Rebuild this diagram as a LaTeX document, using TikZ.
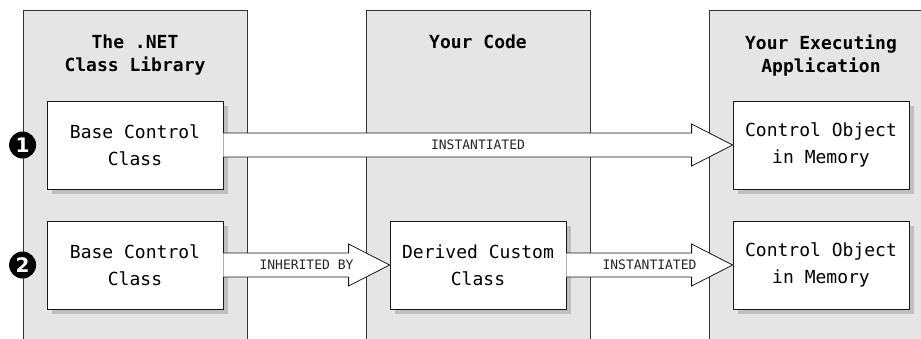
\documentclass[tikz,border=0pt]{standalone}
\usepackage{fontspec}
\setmonofont{DejaVu Sans Mono}
\newfontfamily\numfont{DejaVu Sans}
\usetikzlibrary{positioning,calc,shadows}

\definecolor{lanegray}{gray}{0.9}
\definecolor{edgegray}{gray}{0.2}

\tikzset{
  lane/.style={draw=edgegray, fill=lanegray, line width=0.8pt, minimum width=224pt, minimum height=340pt, anchor=north, inner sep=0pt},
  lanetitle/.style={inner sep=0pt, align=center, font=\ttfamily\bfseries\fontsize{18}{23}\selectfont},
  classbox/.style={draw=black!90, fill=white, line width=0.8pt, minimum width=176pt, minimum height=88pt, align=center,
    font=\ttfamily\fontsize{18}{27}\selectfont, drop shadow={shadow xshift=5pt, shadow yshift=-5pt, fill=black!25, opacity=1}},
  fatarrow/.style={draw=black!90, fill=white, line width=0.8pt},
  tag/.style={font=\ttfamily\fontsize{13}{13}\selectfont, text=black!85, inner sep=0pt},
  stepnum/.style={circle, fill=black, text=white, minimum size=27pt, inner sep=0pt, font=\numfont\bfseries\fontsize{20}{20}\selectfont},
}

\begin{document}
\begin{tikzpicture}[x=1pt, y=-1pt]
  \path[use as bounding box, clip] (0,0) rectangle (921,338);

  \node[lane] (lib) at (135,9.5) {};
  \node[lane] (code) at (478,9.5) {};
  \node[lane] (app) at (821,9.5) {};

  \node[lanetitle, below=25pt of lib.north] (lib-title) {The .NET\\Class Library};
  \node[lanetitle, below=25pt of code.north] (code-title) {Your Code};
  \node[lanetitle, below=25pt of app.north] (app-title) {Your Executing\\Application};

  \node[classbox] (base-a) at (135,145) {Base Control\\Class};
  \node[classbox] (base-b) at (135,265) {Base Control\\Class};
  \node[classbox] (derived) at (478,265) {Derived Custom\\Class};
  \node[classbox] (obj-a) at (821,145) {Control Object\\in Memory};
  \node[classbox] (obj-b) at (821,265) {Control Object\\in Memory};

  \node[stepnum] (one) at (lib.west |- base-a) {1};
  \node[stepnum] (two) at (lib.west |- base-b) {2};

  \foreach \from/\to/\what in {base-a/obj-a/INSTANTIATED, base-b/derived/INHERITED BY, derived/obj-b/INSTANTIATED} {
    \draw[fatarrow] let \p1=(\from.east), \p2=(\to.west) in
      (\x1,\y1+12pt) -- (\x2-41pt,\y1+12pt) -- (\x2-41pt,\y1+21pt) -- (\x2,\y1)
      -- (\x2-41pt,\y1-21pt) -- (\x2-41pt,\y1-12pt) -- (\x1,\y1-12pt);
    \node[tag] at ($(\from.east)!0.5!(\to.west)$) {\what};
  }
\end{tikzpicture}
\end{document}
